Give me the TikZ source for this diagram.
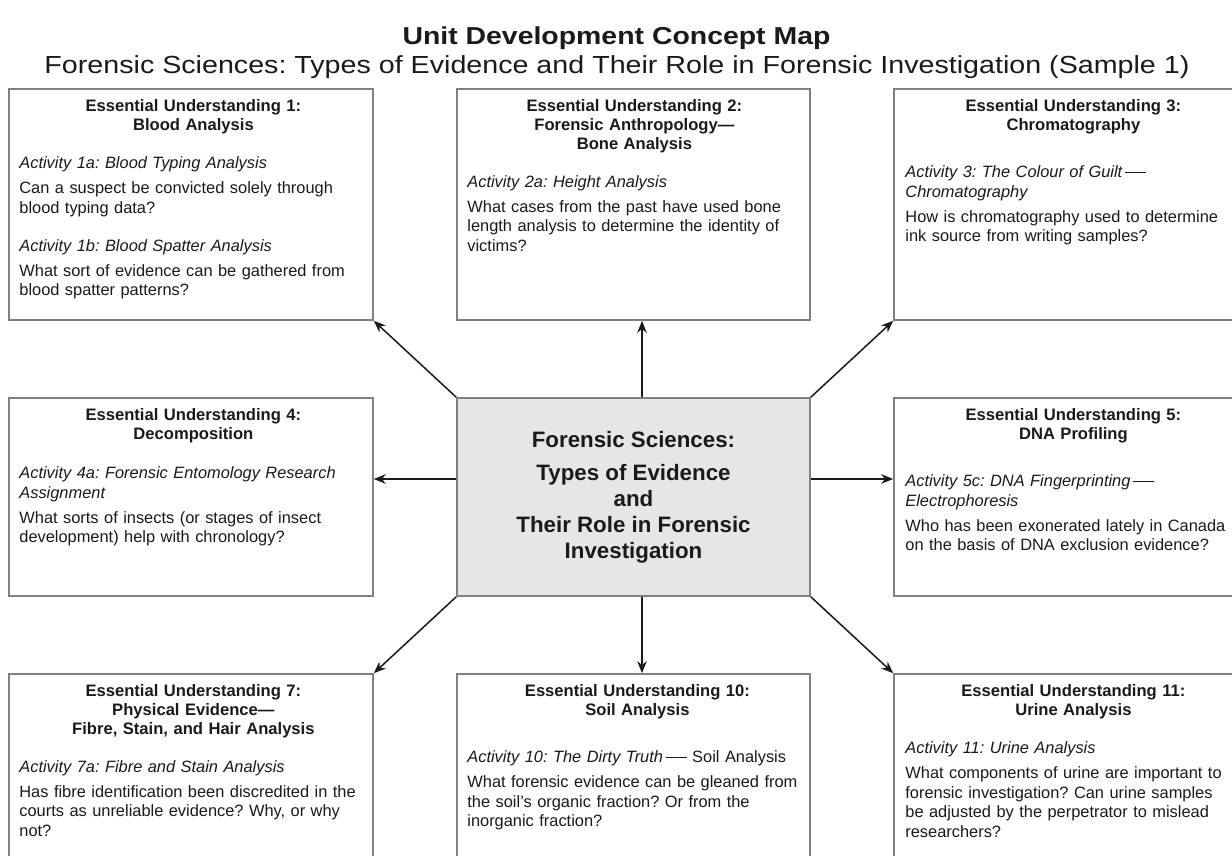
\documentclass[tikz,border=0pt]{standalone}
\usepackage{fontspec}
\setmainfont{Liberation Sans}
\newfontfamily\titlefont[FakeStretch=1.16]{Liberation Sans}
\usetikzlibrary{arrows.meta}
\definecolor{boxgray}{HTML}{808080}
\definecolor{centerfill}{HTML}{E6E6E6}
\definecolor{ink}{HTML}{1A1A1A}
\frenchspacing
\newcommand{\hdr}[1]{{\centering\bfseries\fontsize{16.6}{18.8}\selectfont #1\par}}
\newcommand{\act}[1]{{\itshape #1\par}}
\newcommand{\longdash}{\,\rule[4.5pt]{21pt}{1.3pt}}
\begin{document}
\begin{tikzpicture}[x=1pt,y=-1pt,
  box/.style={draw=boxgray, line width=1.6pt, fill=white, inner sep=0pt},
  ctrbox/.style={draw=boxgray, line width=1.6pt, fill=centerfill, inner sep=0pt},
  txt/.style={inner sep=0pt, anchor=north west, text width=#1, align=left, text=ink,
    font=\fontsize{16.4}{19.6}\selectfont},
  arr/.style={draw=ink, line width=1.5pt, -{Stealth[length=12pt,width=9.5pt]}}]
\path[use as bounding box, fill=white] (0,0) rectangle (1232,856);
\clip (0,0) rectangle (1232,856);

% titles
\node[text=ink, font=\titlefont\bfseries\fontsize{24.5}{28}\selectfont] (title) at (616.5,38) {Unit Development Concept Map};
\node[text=ink, font=\titlefont\fontsize{24.7}{28}\selectfont] (subtitle) at (617,67) {Forensic Sciences: Types of Evidence and Their Role in Forensic Investigation (Sample 1)};

% boxes
\node[box, minimum width=364pt, minimum height=231pt] (b1) at (191,204.5) {};
\node[box, minimum width=353pt, minimum height=231pt] (b2) at (633.5,204.5) {};
\node[box, minimum width=356pt, minimum height=231pt] (b3) at (1072,204.5) {};
\node[box, minimum width=364pt, minimum height=198pt] (b4) at (191,497) {};
\node[ctrbox, minimum width=353pt, minimum height=198pt] (c) at (633.5,497) {};
\node[box, minimum width=356pt, minimum height=198pt] (b5) at (1072,497) {};
\node[box, minimum width=364pt, minimum height=206pt] (b7) at (191,777) {};
\node[box, minimum width=353pt, minimum height=206pt] (b10) at (633.5,777) {};
\node[box, minimum width=356pt, minimum height=206pt] (b11) at (1072,777) {};

% center text
\node[align=center, text=ink, font=\bfseries\fontsize{22.3}{26}\selectfont] (ct) at (c.center)
  {Forensic Sciences:\\[7pt]Types of Evidence\\and\\Their Role in Forensic\\Investigation};

% box texts
\node[txt=348pt] (t1) at ([xshift=11pt,yshift=-11pt]b1.north west) {%
\hdr{Essential Understanding 1:\\Blood Analysis}
\vspace{19pt}
\act{Activity 1a: Blood Typing Analysis}
\vspace{5pt}
Can a suspect be convicted solely through\\blood typing data?\par
\vspace{19pt}
\act{Activity 1b: Blood Spatter Analysis}
\vspace{5pt}
What sort of evidence can be gathered from\\blood spatter patterns?};

\node[txt=334pt] (t2) at ([xshift=11pt,yshift=-11pt]b2.north west) {%
\hdr{Essential Understanding 2:\\Forensic Anthropology---\\Bone Analysis}
\vspace{19pt}
\act{Activity 2a: Height Analysis}
\vspace{5pt}
What cases from the past have used bone\\length analysis to determine the identity of\\victims?};

\node[txt=336pt] (t3) at ([xshift=12pt,yshift=-11pt]b3.north west) {%
\hdr{Essential Understanding 3:\\Chromatography}
\vspace{28pt}
\act{Activity 3: The Colour of Guilt\longdash\\Chromatography}
\vspace{5pt}
How is chromatography used to determine\\ink source from writing samples?};

\node[txt=348pt] (t4) at ([xshift=11pt,yshift=-11pt]b4.north west) {%
\hdr{Essential Understanding 4:\\Decomposition}
\vspace{20pt}
\act{Activity 4a: Forensic Entomology Research\\Assignment}
\vspace{5pt}
What sorts of insects (or stages of insect\\development) help with chronology?};

\node[txt=336pt] (t5) at ([xshift=12pt,yshift=-11pt]b5.north west) {%
\hdr{Essential Understanding 5:\\DNA Profiling}
\vspace{28pt}
\act{Activity 5c: DNA Fingerprinting\longdash\\Electrophoresis}
\vspace{5pt}
Who has been exonerated lately in Canada\\on the basis of DNA exclusion evidence?};

\node[txt=348pt] (t7) at ([xshift=11pt,yshift=-11pt]b7.north west) {%
\hdr{Essential Understanding 7:\\Physical Evidence---\\Fibre, Stain, and Hair Analysis}
\vspace{19pt}
\act{Activity 7a: Fibre and Stain Analysis}
\vspace{5pt}
Has fibre identification been discredited in the\\courts as unreliable evidence? Why, or why\\not?};

\node[txt=340pt] (t10) at ([xshift=11pt,yshift=-11pt]b10.north west) {%
\hdr{Essential Understanding 10:\\Soil Analysis}
\vspace{28pt}
{\itshape Activity 10: The Dirty Truth}\longdash\ Soil Analysis\par
\vspace{5pt}
What forensic evidence can be gleaned from\\the soil's organic fraction? Or from the\\inorganic fraction?};

\node[txt=336pt] (t11) at ([xshift=12pt,yshift=-11pt]b11.north west) {%
\hdr{Essential Understanding 11:\\Urine Analysis}
\vspace{19pt}
\act{Activity 11: Urine Analysis}
\vspace{5pt}
What components of urine are important to\\forensic investigation? Can urine samples\\be adjusted by the perpetrator to mislead\\researchers?};

% connectors
\coordinate (vx) at (642,0);
\coordinate (hy) at (0,479);
\draw[arr] (c.north west) -- (b1.south east);
\draw[arr] (c.north -| vx) -- (b2.south -| vx);
\draw[arr] (c.north east) -- (b3.south west);
\draw[arr] (c.west |- hy) -- (b4.east |- hy);
\draw[arr] (c.east |- hy) -- (b5.west |- hy);
\draw[arr] (c.south west) -- (b7.north east);
\draw[arr] (c.south -| vx) -- (b10.north -| vx);
\draw[arr] (c.south east) -- (b11.north west);
\end{tikzpicture}
\end{document}
